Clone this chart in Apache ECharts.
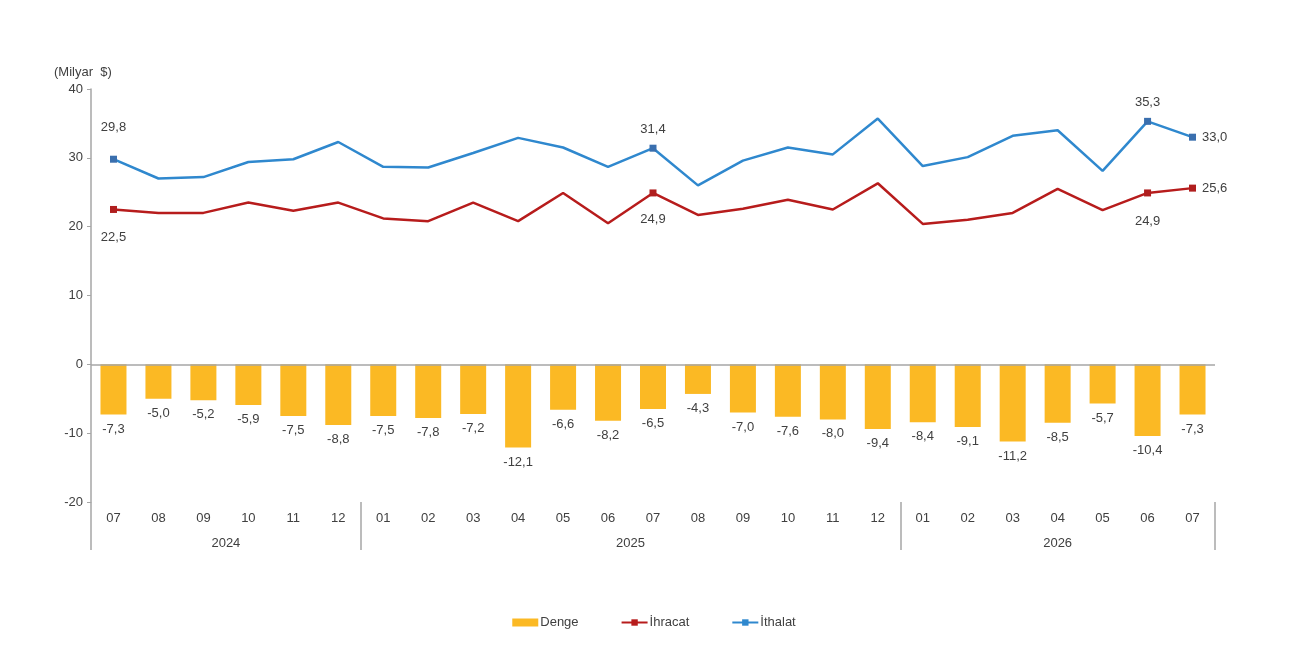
<!DOCTYPE html>
<html>
<head>
<meta charset="utf-8">
<script src="https://cdn.jsdelivr.net/npm/echarts@6/dist/echarts.min.js"></script>
<style>
  html, body { margin: 0; padding: 0; background: #fff; }
  #chart { width: 1308px; height: 650px; }
</style>
</head>
<body>
<div id="chart"></div>
<script>
const months = ["07", "08", "09", "10", "11", "12",
  "01", "02", "03", "04", "05", "06", "07", "08", "09", "10", "11", "12",
  "01", "02", "03", "04", "05", "06", "07"];
const years = ["2024", "2025", "2026"];
const yearSpans = [6, 12, 7];

const denge = [-7.3, -5.0, -5.2, -5.9, -7.5, -8.8,
  -7.5, -7.8, -7.2, -12.1, -6.6, -8.2, -6.5, -4.3, -7.0, -7.6, -8.0, -9.4,
  -8.4, -9.1, -11.2, -8.5, -5.7, -10.4, -7.3];
const ihracat = [22.5, 22.0, 22.0, 23.5, 22.3, 23.5,
  21.2, 20.8, 23.5, 20.8, 24.9, 20.5, 24.9, 21.7, 22.6, 23.9, 22.5, 26.3,
  20.4, 21.0, 22.0, 25.5, 22.4, 24.9, 25.6];
const ithalat = [29.8, 27.0, 27.2, 29.4, 29.8, 32.3,
  28.7, 28.6, 30.7, 32.9, 31.5, 28.7, 31.4, 26.0, 29.6, 31.5, 30.5, 35.7,
  28.8, 30.1, 33.2, 34.0, 28.1, 35.3, 33.0];

// points that carry a marker + value label: [position, distance]
const ihracatMarks = { 0: ["bottom", 18], 12: ["bottom", 16], 23: ["bottom", 18], 24: ["right", 6] };
const ithalatMarks = { 0: ["top", 22], 12: ["top", 9], 23: ["top", 9], 24: ["right", 6] };

const textColor = "#404040";
const axisColor = "#A6A6A6";
const font = "Liberation Sans, Arial, sans-serif";
const fs = 13;

const fmt = (v) => v.toFixed(1).replace(".", ",");

// year group boundaries and centres on the 0..25 slot scale
const yearEdges = [0];
const yearCentres = [];
yearSpans.forEach((n) => {
  const start = yearEdges[yearEdges.length - 1];
  yearCentres.push(start + n / 2);
  yearEdges.push(start + n);
});

function lineData(values, marks, markColor) {
  return values.map((v, i) => {
    const m = marks[i];
    if (!m) return { value: v, symbol: "none" };
    return {
      value: v,
      symbol: "rect",
      symbolSize: 7,
      itemStyle: { color: markColor },
      label: {
        show: true,
        position: m[0],
        distance: m[1],
        formatter: (p) => fmt(p.value),
        color: textColor,
        fontSize: fs,
        fontFamily: font,
      },
    };
  });
}

const chart = echarts.init(document.getElementById("chart"));

chart.setOption({
  animation: false,
  textStyle: { fontFamily: font },
  title: {
    text: "(Milyar  $)",
    left: 49,
    top: 61,
    textStyle: { fontSize: fs, fontWeight: "normal", color: textColor, fontFamily: font },
  },
  grid: { left: 91, right: 93, top: 89, bottom: 148 },
  legend: {
    top: 611,
    left: "center",
    itemGap: 42,
    itemWidth: 26,
    itemHeight: 8,
    textStyle: { color: textColor, fontSize: fs, fontFamily: font, padding: [0, 0, 0, -3] },
    data: [
      { name: "Denge", icon: "rect" },
      { name: "İhracat" },
      { name: "İthalat" },
    ],
  },
  xAxis: [
    {
      type: "category",
      data: months,
      position: "bottom",
      axisLine: { show: false },
      axisTick: { show: false },
      axisLabel: { color: textColor, fontSize: fs, margin: 10, interval: 0 },
    },
    {
      type: "value",
      min: 0,
      max: months.length,
      position: "bottom",
      axisLine: { show: false },
      splitLine: { show: false },
      axisTick: {
        show: true,
        customValues: yearEdges,
        length: 48,
        lineStyle: { color: axisColor, width: 1.5 },
      },
      axisLabel: {
        customValues: yearCentres,
        margin: 35,
        color: textColor,
        fontSize: fs,
        formatter: (v) => years[yearCentres.indexOf(v)] || "",
      },
    },
  ],
  yAxis: {
    type: "value",
    min: -20,
    max: 40,
    interval: 10,
    axisLine: { show: true, lineStyle: { color: axisColor, width: 1.5 } },
    axisTick: { show: true, length: 4, lineStyle: { color: axisColor } },
    splitLine: { show: false },
    axisLabel: { color: textColor, fontSize: fs, margin: 8 },
  },
  series: [
    {
      name: "Denge",
      type: "bar",
      data: denge,
      barWidth: 26,
      itemStyle: { color: "#FBB924" },
      label: {
        show: true,
        position: "bottom",
        distance: 8,
        formatter: (p) => fmt(p.value),
        color: textColor,
        fontSize: fs,
      },
      markLine: {
        silent: true,
        symbol: "none",
        label: { show: false },
        lineStyle: { color: axisColor, type: "solid", width: 1.5 },
        data: [{ yAxis: 0 }],
      },
    },
    {
      name: "İhracat",
      type: "line",
      data: lineData(ihracat, ihracatMarks, "#B01E1E"),
      symbol: "rect",
      symbolSize: 7,
      lineStyle: { color: "#B71C1C", width: 2.5 },
      itemStyle: { color: "#B71C1C" },
      z: 3,
    },
    {
      name: "İthalat",
      type: "line",
      data: lineData(ithalat, ithalatMarks, "#3A6FAE"),
      symbol: "rect",
      symbolSize: 7,
      lineStyle: { color: "#2F88CE", width: 2.5 },
      itemStyle: { color: "#2F88CE" },
      z: 3,
    },
  ],
});
</script>
</body>
</html>
